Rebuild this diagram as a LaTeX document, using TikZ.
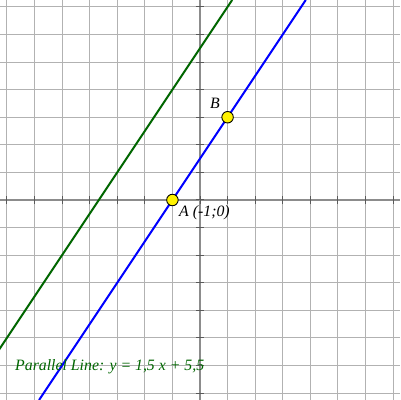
\documentclass[tikz,border=0pt]{standalone}
\usepackage{fontspec}
\setmainfont{Liberation Serif}
\begin{document}
\begin{tikzpicture}[x=27.586pt,y=27.586pt,
  gridline/.style={draw=black!30,line width=1pt},
  axisline/.style={draw=black!45,line width=2pt},
  tickmark/.style={draw=black!65,line width=1pt},
  pt/.style={circle,draw=black,fill=yellow,line width=0.9pt,inner sep=0pt,minimum size=11.5pt},
  lbl/.style={font=\fontsize{15.8pt}{18pt}\selectfont\itshape,inner sep=0pt,anchor=base west}]
\useasboundingbox (-7.25,-7.25) rectangle (7.25,7.25);
\fill[white] (-7.25,-7.25) rectangle (7.25,7.25);
\begin{scope}
\clip (-7.25,-7.25) rectangle (7.25,7.25);
\foreach \i in {-7,...,7}{
  \draw[gridline] (\i,-7.25) -- (\i,7.25);
  \draw[gridline] (-7.25,\i) -- (7.25,\i);
}
\draw[axisline] (-7.25,0) -- (7.25,0);
\draw[axisline] (0,-7.25) -- (0,7.25);
\foreach \i in {-7,...,7}{
  \draw[tickmark] (\i,-0.15) -- (\i,0.15);
  \draw[tickmark] (-0.15,\i) -- (0.15,\i);
}
\draw[green!40!black,line width=2pt] (-8.5,-7.25) -- (1.1667,7.25);
\draw[blue,line width=2pt] (-5.8333,-7.25) -- (3.8333,7.25);
\end{scope}
\node[pt] (A) at (-1,0) {};
\node[pt] (B) at (1,3) {};
\node[lbl] (la) at (0.363,3.30) {B};
\node[lbl] (lb) at (-0.76,-0.616) {A (-1;0)};
\node[lbl,text=green!40!black] (lp) at (-6.706,-6.163) {Parallel Line: y = 1,5 x + 5,5};
\end{tikzpicture}
\end{document}
